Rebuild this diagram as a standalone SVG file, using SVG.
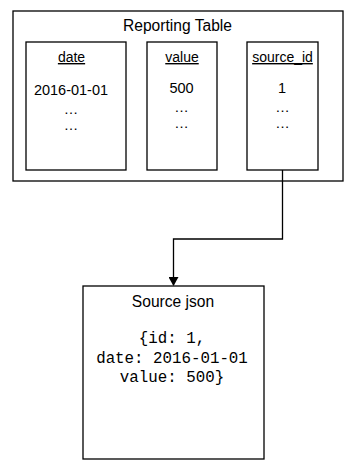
<svg xmlns="http://www.w3.org/2000/svg" width="355" height="471" viewBox="0 0 355 471">
<style>
rect{fill:#fff;stroke:#000;stroke-width:1.3}
text{font-family:"Liberation Sans",Arial,sans-serif;fill:#000;text-anchor:middle}
.t{font-size:15.6px}
.h{font-size:14px;text-decoration:underline}
.v{font-size:14.5px}
.m{font-family:"Liberation Mono","Courier New",monospace;font-size:15.8px}
.c{fill:none;stroke:#000;stroke-width:1.3}
</style>
<defs>
<marker id="arr" markerWidth="10" markerHeight="10" refX="8" refY="5" orient="auto" markerUnits="userSpaceOnUse">
<path d="M0,0 L9,5 L0,10 Z" fill="#000"/>
</marker>
</defs>
<g id="reporting-table">
<rect x="13" y="11" width="330" height="170"/>
<text class="t" x="177.5" y="31">Reporting Table</text>
</g>
<g id="col-date">
<rect x="26" y="42" width="100" height="128"/>
<text class="h" x="71.5" y="62">date</text>
<text class="v" x="71" y="95">2016-01-01</text>
<text class="v" x="71" y="114">…</text>
<text class="v" x="71" y="130">…</text>
</g>
<g id="col-value">
<rect x="147" y="42" width="70" height="128"/>
<text class="h" x="182" y="62">value</text>
<text class="v" x="181.5" y="93">500</text>
<text class="v" x="181.5" y="112">…</text>
<text class="v" x="181.5" y="128">…</text>
</g>
<g id="col-source-id">
<rect x="247" y="42" width="71" height="128"/>
<text class="h" x="282.5" y="62">source_id</text>
<text class="v" x="282" y="93">1</text>
<text class="v" x="282.5" y="112">…</text>
<text class="v" x="282.5" y="128">…</text>
</g>
<g id="source-json">
<rect x="83" y="286" width="181" height="173"/>
<text class="t" x="173" y="307">Source json</text>
<text class="m" x="172" y="343">{id: 1,</text>
<text class="m" x="172" y="363">date: 2016-01-01</text>
<text class="m" x="172" y="382">value: 500}</text>
</g>
<g id="connectors">
<path class="c" d="M282.5,170 V239 H173.5 V285" marker-end="url(#arr)"/>
</g>
</svg>
